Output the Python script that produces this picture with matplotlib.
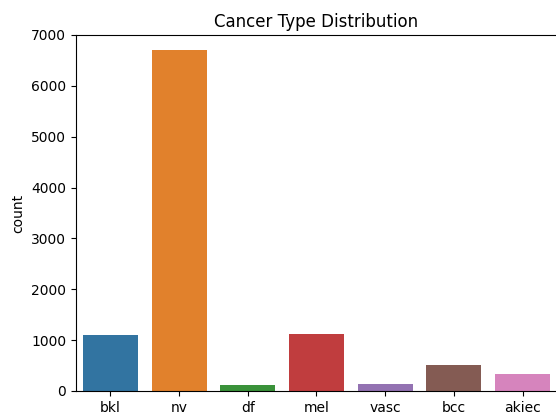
import matplotlib
matplotlib.use("Agg")
import matplotlib.pyplot as plt
import seaborn as sns

categories = ["bkl", "nv", "df", "mel", "vasc", "bcc", "akiec"]
counts = [1099, 6705, 115, 1113, 142, 514, 327]
base_colors = sns.color_palette("tab10", len(categories))
colors = [sns.desaturate(c, 0.75) for c in base_colors]

fig = plt.figure(figsize=(5.56, 4.13), dpi=100)
ax = fig.add_axes([0.1367, 0.0533, 0.865, 0.862])
x = list(range(len(categories)))
ax.bar(x, counts, width=0.8, color=colors)
ax.set_xticks(x)
ax.set_xticklabels(categories)
ax.set_xlim(-0.5, len(categories) - 0.5)
ax.set_ylim(0, 7000)
ax.set_ylabel("count")
ax.set_title("Cancer Type Distribution")
fig.savefig("out.png", dpi=100)
